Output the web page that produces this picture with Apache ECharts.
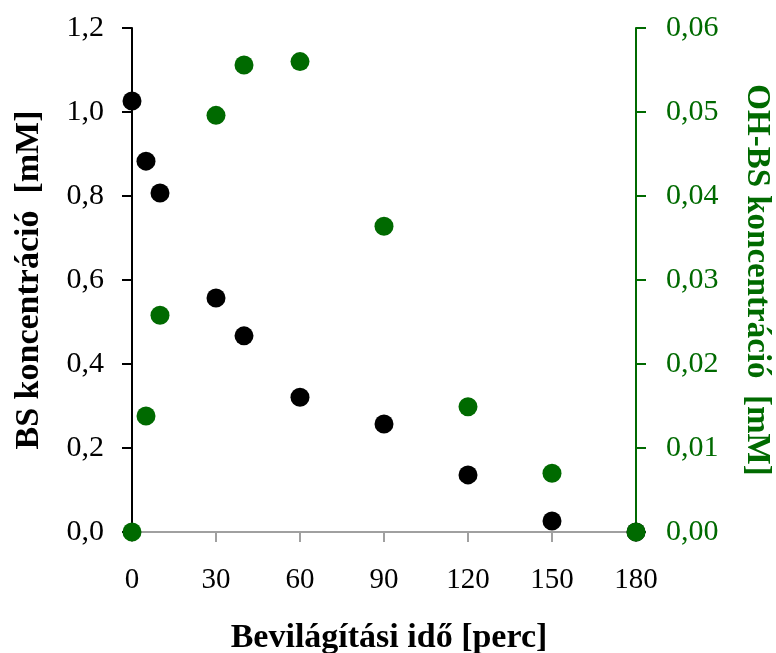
<!DOCTYPE html>
<html>
<head>
<meta charset="utf-8">
<script src="https://cdn.jsdelivr.net/npm/echarts@6/dist/echarts.min.js"></script>
<style>
  html, body { margin: 0; padding: 0; background: #fff; }
  #chart1 { width: 776px; height: 653px; }
</style>
</head>
<body>
<div id="chart1"></div>
<script>
// idő [perc] és koncentrációk
var bsTime = [0, 5, 10, 30, 40, 60, 90, 120, 150, 180]
var bsConc = [1.026, 0.883, 0.807, 0.557, 0.467, 0.321, 0.257, 0.136, 0.026, 0]
var ohTime = [0, 5, 10, 30, 40, 60, 90, 120, 150, 180]
var ohConc = [0, 0.0138, 0.0258, 0.0496, 0.0556, 0.056, 0.0364, 0.0149, 0.0070, 0]

var green = "#006a00"
var font = "Liberation Serif"

var chart = echarts.init(document.querySelector("#chart1"))

var option = {
    animation: false,
    grid: { left: 132, right: 140, top: 28, bottom: 121, outerBoundsMode: "none", containLabel: false },
    xAxis: {
        type: "value",
        min: 0, max: 180, interval: 30,
        name: "Bevilágítási idő [perc]",
        nameLocation: "middle",
        nameGap: 89,
        nameTextStyle: { fontFamily: font, fontSize: 34, fontWeight: "bold", color: "#000", padding: [0, 0, 0, 10] },
        splitLine: { show: false },
        axisLine: { lineStyle: { color: "#a0a0a0", width: 2 } },
        axisTick: { length: 10, lineStyle: { color: "#a0a0a0", width: 2 } },
        axisLabel: { fontFamily: font, fontSize: 29, color: "#000", margin: 34 }
    },
    yAxis: [{
        type: "value",
        min: 0, max: 1.2, interval: 0.2,
        name: "BS koncentráció  [mM]",
        nameLocation: "middle",
        nameGap: 86,
        nameRotate: 90,
        nameTextStyle: { fontFamily: font, fontSize: 34, fontWeight: "bold", color: "#000" },
        splitLine: { show: false },
        axisLine: { show: true, lineStyle: { color: "#000", width: 2 } },
        axisTick: { show: true, length: 10, lineStyle: { color: "#000", width: 2 } },
        axisLabel: {
            fontFamily: font, fontSize: 30, color: "#000", margin: 28,
            formatter: function (v) { return v.toFixed(1).replace(".", ",") }
        }
    }, {
        type: "value",
        position: "right",
        min: 0, max: 0.06, interval: 0.01,
        name: "OH-BS koncentráció  [mM]",
        nameLocation: "middle",
        nameGap: 104,
        nameRotate: -90,
        nameTextStyle: { fontFamily: font, fontSize: 33, fontWeight: "bold", color: green },
        splitLine: { show: false },
        axisLine: { show: true, lineStyle: { color: green, width: 2 } },
        axisTick: { show: true, length: 10, lineStyle: { color: green, width: 2 } },
        axisLabel: {
            fontFamily: font, fontSize: 30, color: green, margin: 30,
            formatter: function (v) { return v.toFixed(2).replace(".", ",") }
        }
    }],
    series: [{
        type: "scatter",
        yAxisIndex: 0,
        symbolSize: 19,
        itemStyle: { color: "#000", opacity: 1 },
        data: bsTime.map((t, i) => [t, bsConc[i]])
    }, {
        type: "scatter",
        yAxisIndex: 1,
        symbolSize: 19,
        itemStyle: { color: green, opacity: 1 },
        data: ohTime.map((t, i) => [t, ohConc[i]])
    }]
}

chart.setOption(option)
</script>
</body>
</html>
